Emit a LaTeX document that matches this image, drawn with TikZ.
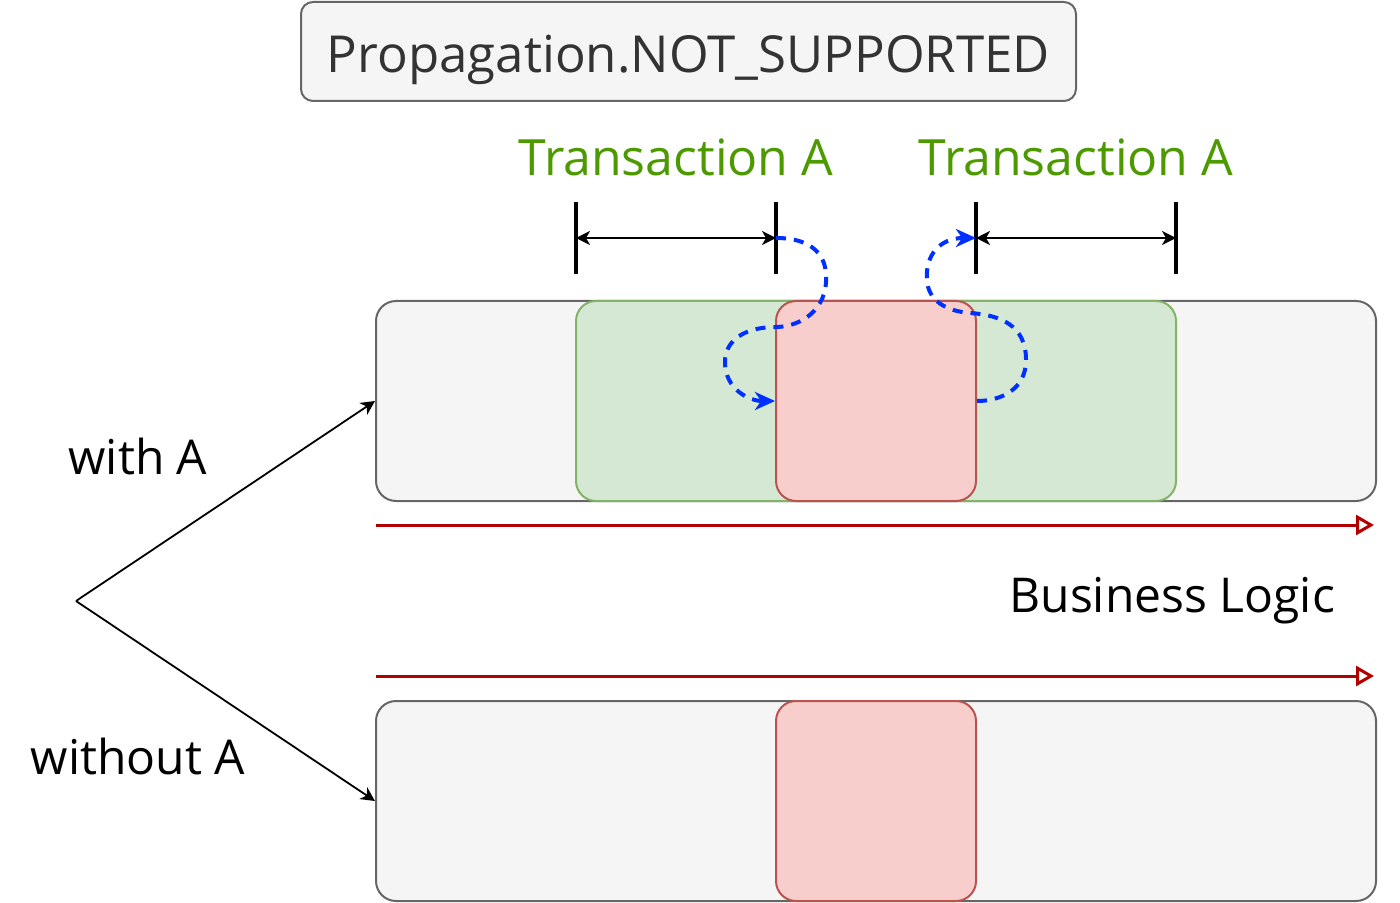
\documentclass[tikz,border=0pt]{standalone}
\usepackage{fontspec}
\setmainfont{Open Sans}
\usetikzlibrary{arrows.meta,positioning}

\definecolor{boxgrey}{HTML}{F5F5F5}
\definecolor{edgegrey}{HTML}{666666}
\definecolor{txfill}{HTML}{D5E8D4}
\definecolor{txedge}{HTML}{82B366}
\definecolor{nofill}{HTML}{F8CECC}
\definecolor{noedge}{HTML}{B85450}
\definecolor{txtext}{HTML}{4D9900}
\definecolor{flowred}{HTML}{B20000}
\definecolor{hopblue}{HTML}{0030FF}

\tikzset{
  lane/.style={draw=edgegrey, fill=boxgrey, line width=1pt, rounded corners=10pt,
    minimum width=500pt, minimum height=100pt},
  txbox/.style={draw=txedge, fill=txfill, line width=1pt, rounded corners=10pt,
    minimum width=300pt, minimum height=100pt},
  suspended/.style={draw=noedge, fill=nofill, line width=1pt, rounded corners=10pt,
    minimum width=100pt, minimum height=100pt},
  txlabel/.style={text=txtext, font=\fontsize{25}{30}\selectfont},
  sidelabel/.style={font=\fontsize{24}{28}\selectfont},
  tickbar/.style={line width=1.75pt},
  span/.style={line width=0.9pt, {Stealth[length=7pt,width=7pt,inset=2pt]}-{Stealth[length=7pt,width=7pt,inset=2pt]}},
  branch/.style={line width=0.9pt, -{Stealth[length=7pt,width=7pt,inset=2pt]}},
  flow/.style={draw=flowred, line width=1.5pt, -{Triangle[open,length=9pt,width=10pt,line width=1.5pt]}},
  hop/.style={draw=hopblue, line width=2pt, dash pattern=on 5pt off 4pt,
    -{Stealth[length=10pt,width=9pt,inset=3pt]}}
}

\begin{document}
\begin{tikzpicture}[x=0.5pt,y=-0.5pt]
\useasboundingbox (0,0) rectangle (1400,903);

% title
\node[draw=edgegrey, fill=boxgrey, line width=1pt, rounded corners=6pt,
  minimum width=387.5pt, minimum height=49.5pt, text=black!80,
  text height=27pt, text depth=6pt,
  font=\fontsize{25.5}{30}\selectfont] (title) at (688.5,51.5) {Propagation.NOT\_SUPPORTED};

% lane with A
\node[lane] (withlane) at (876,401) {};
\node[txbox] (txn) at (876,401) {};
\node[suspended] (susp) at (876,401) {};

% lane without A
\node[lane] (nolane) at (876,801) {};
\node[suspended] (plain) at (876,801) {};

% transaction spans
\node[txlabel] (txa) at (676,157) {Transaction A};
\node[txlabel] (txb) at (1076,157) {Transaction A};
\coordinate (t1) at (576,238);
\coordinate (t2) at (776,238);
\coordinate (t3) at (976,238);
\coordinate (t4) at (1176,238);
\foreach \t in {t1,t2,t3,t4}
  \draw[tickbar] ([yshift=18pt]\t) -- ([yshift=-18pt]\t);
\draw[span] (t1) -- (t2);
\draw[span] (t3) -- (t4);

% suspend / resume
\draw[hop] (t2) .. controls (812,238) and (828,255) .. (826,282)
  .. controls (824,315) and (795,327) .. (776,327)
  .. controls (745,327) and (725,340) .. (725,362)
  .. controls (725,390) and (750,401) .. (susp.west);
\draw[hop] (susp.east) .. controls (1000,401) and (1026,390) .. (1026,360)
  .. controls (1026,325) and (1000,315) .. (970,313)
  .. controls (945,311) and (928,300) .. (927,280)
  .. controls (925,255) and (940,238) .. (t3);

% business logic flow
\coordinate (flowa) at (376,525);
\coordinate (flowaend) at (1374,525);
\coordinate (flowb) at (376,676);
\coordinate (flowbend) at (1374,676);
\draw[flow] (flowa) -- (flowaend);
\draw[flow] (flowb) -- (flowbend);
\node[sidelabel, anchor=east] (logic) at (1342,601) {Business Logic};

% branches
\coordinate (fork) at (76,601);
\draw[branch] (fork) -- (withlane.west);
\draw[branch] (fork) -- (nolane.west);
\node[sidelabel] (withA) at (138,456) {with A};
\node[sidelabel] (withoutA) at (138,756) {without A};
\end{tikzpicture}
\end{document}
